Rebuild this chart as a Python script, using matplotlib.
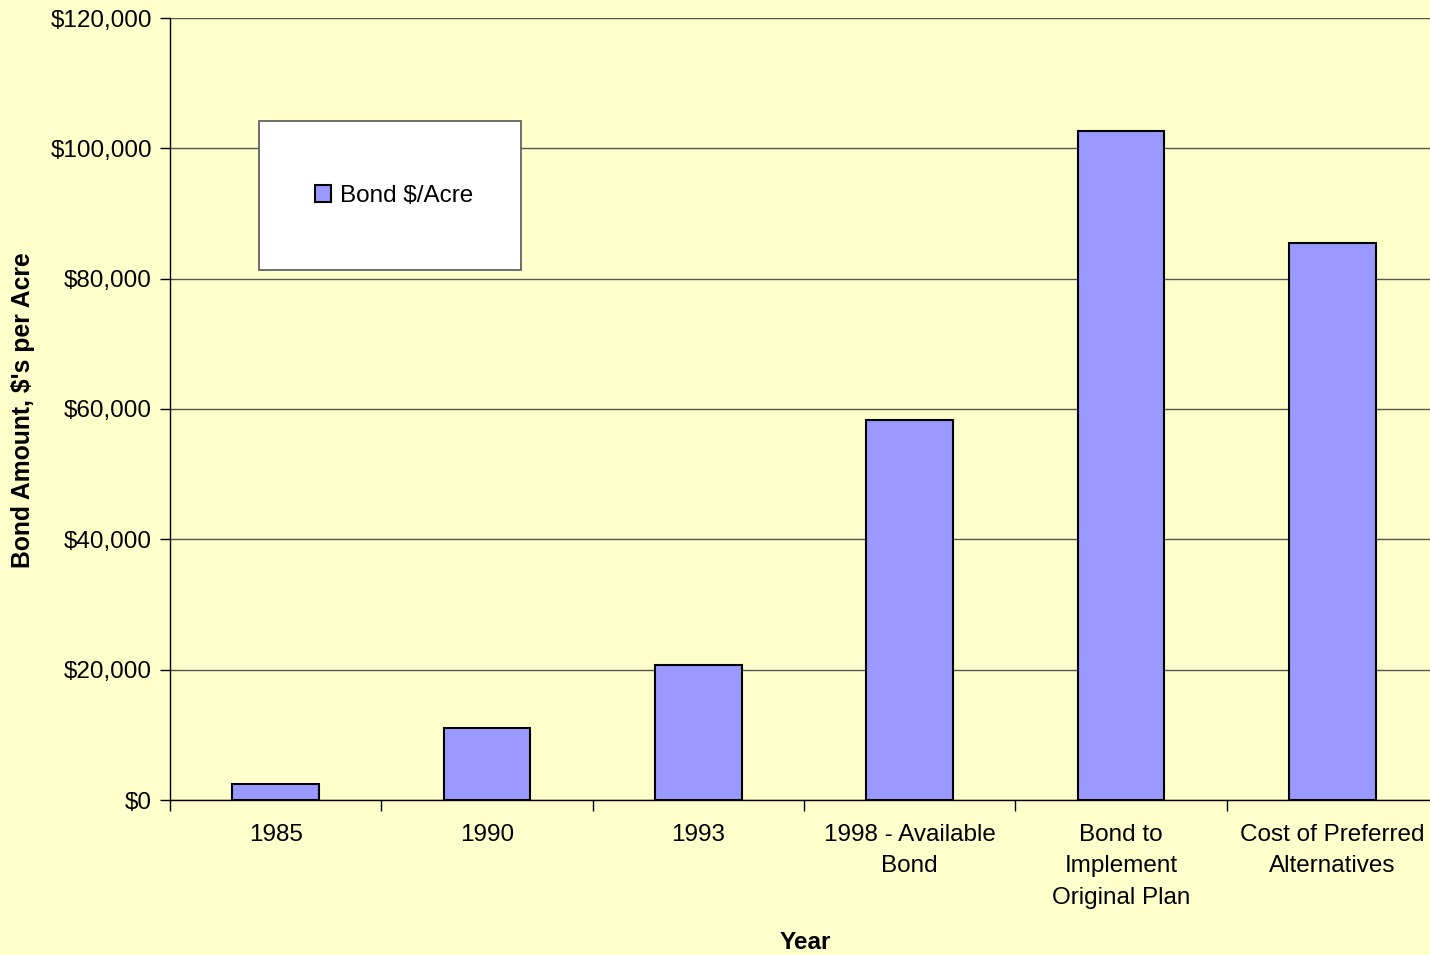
import matplotlib
matplotlib.use("Agg")
import matplotlib.pyplot as plt
from matplotlib.patches import Rectangle
from matplotlib.ticker import FuncFormatter, FixedLocator

categories = ["1985", "1990", "1993", "1998 - Available\nBond",
              "Bond to\nImplement\nOriginal Plan", "Cost of Preferred\nAlternatives"]
bond_per_acre = [2400, 11100, 20700, 58300, 102600, 85400]
y_ticks = [0, 20000, 40000, 60000, 80000, 100000, 120000]

plt.rcParams['font.family'] = ['Liberation Sans', 'DejaVu Sans']

bg = '#FFFFCC'
fig = plt.figure(figsize=(14.3, 9.55), dpi=100, facecolor=bg)
ax = fig.add_axes([170/1430, 155/955, 1268/1430, 782/955])
ax.set_facecolor(bg)

x = list(range(len(categories)))
bars = ax.bar(x, bond_per_acre, width=0.41, color='#9999FF', edgecolor='black',
              linewidth=1.5, zorder=3, label='Bond $/Acre')

ax.set_xlim(-0.5, len(categories) - 0.5)
ax.set_ylim(0, 120000)
ax.yaxis.set_major_locator(FixedLocator(y_ticks))
ax.yaxis.set_major_formatter(FuncFormatter(lambda v, p: f"${int(v):,}"))
ax.grid(axis='y', color='#555555', linewidth=1.0, zorder=0)

# category labels centred, ticks at separators
ax.set_xticks(x)
ax.set_xticklabels(categories, fontsize=17.5, linespacing=1.56)
ax.tick_params(axis='x', which='major', length=0, pad=17)
ax.set_xticks([i - 0.5 for i in x], minor=True)
ax.tick_params(axis='x', which='minor', length=8, width=1, color='black', direction='out')
ax.tick_params(axis='y', length=7, width=1, direction='out', labelsize=17.5, pad=6)

for s in ['top', 'right']:
    ax.spines[s].set_visible(False)
for s in ['left', 'bottom']:
    ax.spines[s].set_color('black')
    ax.spines[s].set_linewidth(1.0)
    ax.spines[s].set_zorder(4)

fig.text(805/1430, 1 - 942/955, 'Year', ha='center', va='center',
         fontsize=17.5, fontweight='bold')
fig.text(23/1430, 1 - 410/955, "Bond Amount, $'s per Acre", ha='center', va='center',
         rotation=90, fontsize=17.8, fontweight='bold')

# legend box
box = Rectangle((259/1430, 1 - 270/955), 262/1430, 149/955, transform=fig.transFigure,
                facecolor='white', edgecolor='#555555', linewidth=1.2, zorder=5)
fig.patches.append(box)
leg = fig.legend(handles=[bars], labels=['Bond $/Acre'], loc='center',
                 bbox_to_anchor=(394/1430, 1 - 196/955), frameon=False,
                 fontsize=17.5, handlelength=0.65, handleheight=0.65, handletextpad=0.35)
leg.set_zorder(6)

fig.savefig('out.png', dpi=100, facecolor=bg)
